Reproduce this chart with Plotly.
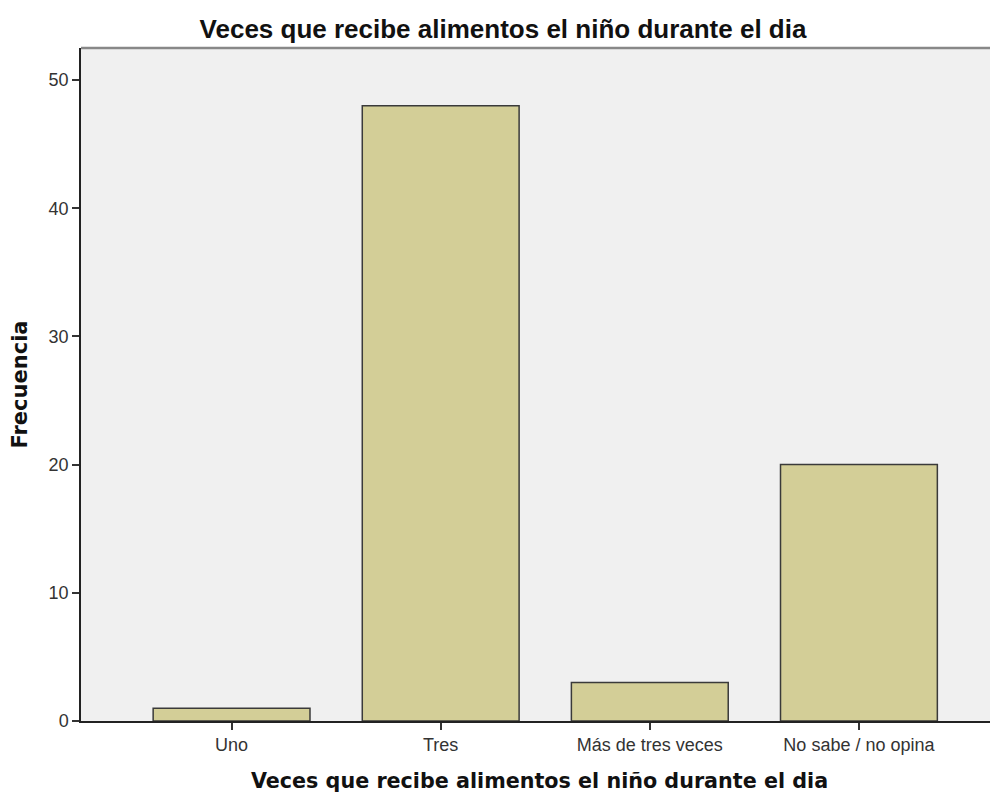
import plotly.graph_objects as go

categories = ["Uno", "Tres", "Más de tres veces", "No sabe / no opina"]
frecuencia = [1, 48, 3, 20]
y_ticks = [0, 10, 20, 30, 40, 50]

fig = go.Figure()
fig.add_trace(go.Bar(
    x=list(range(len(categories))),
    y=frecuencia,
    width=0.75,
    marker=dict(color="#D3CE97", line=dict(color="#3a3a3a", width=1.5)),
))

fig.update_layout(
    width=990, height=788,
    margin=dict(l=73, r=0, t=40, b=75),
    paper_bgcolor="white",
    plot_bgcolor="#F0F0F0",
    showlegend=False,
    title=dict(
        text="<b>Veces que recibe alimentos el niño durante el dia</b>",
        x=0.5, xanchor="center", xref="container", y=0.974, yanchor="middle",
        font=dict(family="Liberation Sans", size=26, color="#111"),
    ),
    font=dict(family="Liberation Sans", size=18, color="#333"),
)

fig.update_xaxes(
    range=[-0.72, 3.665],
    tickvals=list(range(len(categories))),
    ticktext=categories,
    ticks="outside", ticklen=7, tickcolor="#333", tickwidth=1.5,
    showline=True, linecolor="#222", linewidth=1.5,
    showgrid=False, zeroline=False,
    tickfont=dict(family="Liberation Sans", size=18, color="#333"),
    title=dict(text="<b>Veces que recibe alimentos el niño durante el dia</b>",
               font=dict(family="DejaVu Sans", size=20.7, color="#111"), standoff=19),
)
fig.update_yaxes(
    range=[0, 52.5],
    tickvals=y_ticks,
    ticks="outside", ticklen=7, tickcolor="#333", tickwidth=1.5,
    showline=True, linecolor="#222", linewidth=1.5,
    showgrid=False, zeroline=False,
    tickfont=dict(family="Liberation Sans", size=18, color="#333"),
    title=dict(text="<b>Frecuencia</b>",
               font=dict(family="DejaVu Sans", size=21, color="#111"), standoff=18),
)

fig.add_shape(type="line", xref="paper", yref="paper", x0=0, x1=1, y0=1, y1=1,
              line=dict(color="#888", width=2.5))

fig.write_html("out.html")
